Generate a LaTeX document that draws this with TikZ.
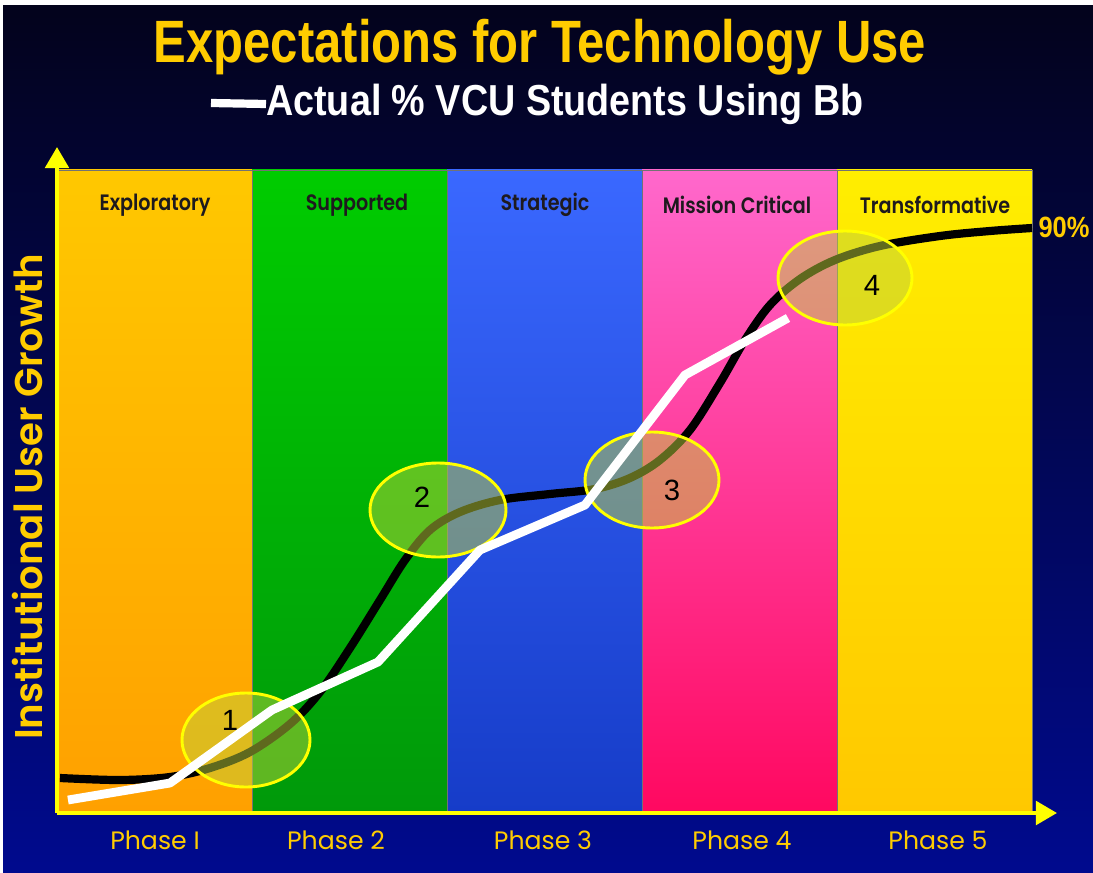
\documentclass[tikz,border=0pt]{standalone}
\usepackage{fontspec}
\setmainfont{Liberation Sans}
\newfontfamily\titlefont[FakeStretch=0.82]{Liberation Sans Bold}
\newfontfamily\subfont[FakeStretch=0.87]{Liberation Sans Bold}
\newfontfamily\gothfont{Poppins}
\newfontfamily\gothsemi{Poppins SemiBold}
\newfontfamily\gothbold[FakeStretch=0.86]{Poppins SemiBold}
\usetikzlibrary{arrows.meta}

\definecolor{bgtop}{HTML}{03031C}
\definecolor{bgbot}{HTML}{000A8E}
\definecolor{axisyel}{HTML}{FFFF00}
\definecolor{titleyel}{HTML}{FFCC00}
\definecolor{headink}{HTML}{1E1A1E}
\definecolor{orgtop}{HTML}{FFC800}
\definecolor{orgbot}{HTML}{FFA000}
\definecolor{grntop}{HTML}{00CC00}
\definecolor{grnbot}{HTML}{00990A}
\definecolor{blutop}{HTML}{3A68FF}
\definecolor{blubot}{HTML}{163CC8}
\definecolor{pnktop}{HTML}{FF68CC}
\definecolor{pnkbot}{HTML}{FF0860}
\definecolor{yeltop}{HTML}{FFEE00}
\definecolor{yelbot}{HTML}{FFC800}
\definecolor{ringfill}{HTML}{BED23C}

\begin{document}
\begin{tikzpicture}[x=0.03cm, y=-0.03cm,
    colhead/.style = {text=headink, font=\gothbold\fontsize{19}{22}\selectfont},
    phaselbl/.style = {text=titleyel, font=\gothfont\fontsize{21.5}{25}\selectfont},
    stage/.style = {draw=axisyel, line width=2.5pt, fill=ringfill, fill opacity=0.5},
    stagenum/.style = {text=black, font=\fontsize{25}{30}\selectfont},
    axis/.style = {draw=axisyel, line width=3.5pt, -{Triangle[length=18pt, width=20pt, fill=axisyel]}},
    expect/.style = {black, line width=7pt},
    actual/.style = {white, line width=7.5pt, line join=round}]
    \useasboundingbox (0,0) rectangle (1093,873);
    \fill[white] (0,0) rectangle (1093,873);
    \shade[top color=bgtop, bottom color=bgbot] (3,6) rectangle (1093,873);

    \def\colw{195}
    \foreach \i/\ct/\cb in {0/orgtop/orgbot, 1/grntop/grnbot, 2/blutop/blubot, 3/pnktop/pnkbot, 4/yeltop/yelbot}
        \shade[top color=\ct, bottom color=\cb, draw=black!55, line width=0.4pt]
            ({57+\i*\colw},170) rectangle ({57+(\i+1)*\colw},813);

    \node (title) at (540,47) {\titlefont\fontsize{51}{56}\selectfont\color{titleyel}Expectations for Technology Use};
    \node[anchor=west, inner sep=0pt] (sub) at (266,104) {\subfont\fontsize{37}{42}\selectfont\color{white}Actual \% VCU Students Using Bb};
    \coordinate (legend) at (211,103);
    \draw[white, line width=7pt] (legend) -- (sub.west);

    \node[colhead] (h1) at (155,205) {Exploratory};
    \node[colhead] (h2) at (357,205) {Supported};
    \node[colhead] (h3) at (545,205) {Strategic};
    \node[colhead] (h4) at (737,205) {Mission Critical};
    \node[colhead] (h5) at (935,205) {Transformative};

    \node[phaselbl] (p1) at (155,840) {Phase I};
    \node[phaselbl] (p2) at (336,840) {Phase 2};
    \node[phaselbl] (p3) at (543,840) {Phase 3};
    \node[phaselbl] (p4) at (742,840) {Phase 4};
    \node[phaselbl] (p5) at (938,840) {Phase 5};

    \node[rotate=90, text=titleyel, font=\gothsemi\fontsize{33}{38}\selectfont] (ylabel) at (28,497) {Institutional User Growth};

    \coordinate (origin) at (57,813);
    \coordinate (ytip) at (57,147);
    \coordinate (xtip) at (1057,813);
    \draw[axis] (origin) -- (ytip);
    \draw[axis] (origin) -- (xtip);

    \draw[expect] plot[smooth, tension=0.55] coordinates {(60,778) (120,780) (170,777) (210,768) (250,752)
        (290,724) (320,692) (350,648) (380,600) (405,560) (430,530) (460,512) (500,500) (550,494)
        (595,489) (630,478) (660,460) (690,430) (720,383) (745,340) (770,305) (800,279) (835,260)
        (880,246) (940,236) (990,231) (1032,228)};
    \node[text=titleyel, font=\subfont\fontsize{25}{28}\selectfont] (top) at (1064,227) {90\%};

    \draw[stage] (246,740) ellipse [x radius=64, y radius=47];
    \draw[stage] (438,510) ellipse [x radius=68, y radius=47];
    \draw[stage] (652,480) ellipse [x radius=67, y radius=48];
    \draw[stage] (845,278) ellipse [x radius=67, y radius=47];

    \coordinate (w0) at (68,800);
    \coordinate (w1) at (170,783);
    \coordinate (w2) at (272,710);
    \coordinate (w3) at (378,662);
    \coordinate (w4) at (480,550);
    \coordinate (w5) at (585,505);
    \coordinate (w6) at (685,375);
    \coordinate (w7) at (788,318);
    \draw[actual] (w0) -- (w1) -- (w2) -- (w3) -- (w4) -- (w5) -- (w6) -- (w7);

    \node[stagenum] (n1) at (230,720) {1};
    \node[stagenum] (n2) at (422,497) {2};
    \node[stagenum] (n3) at (672,490) {3};
    \node[stagenum] (n4) at (872,285) {4};
\end{tikzpicture}
\end{document}
